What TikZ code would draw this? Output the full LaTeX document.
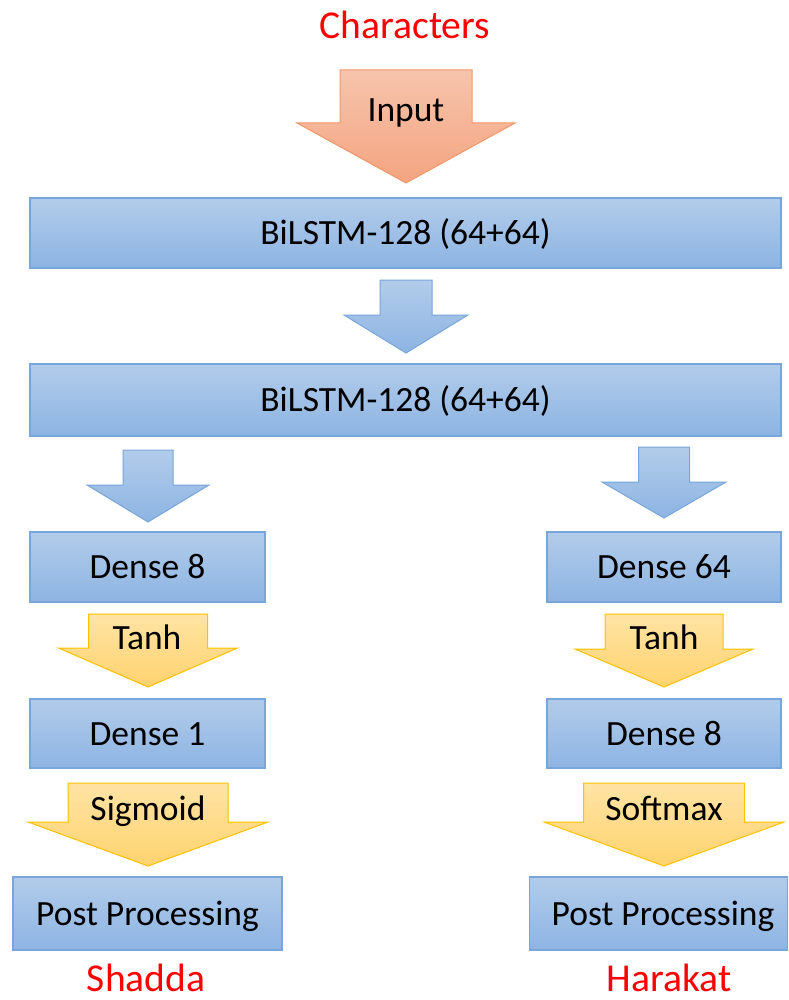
\documentclass[tikz,border=0pt]{standalone}
\usepackage{fontspec}
\setmainfont{Carlito}
\definecolor{bluetop}{RGB}{178,204,234}
\definecolor{bluebot}{RGB}{141,180,227}
\definecolor{blueline}{RGB}{120,165,218}
\definecolor{orangetop}{RGB}{246,196,172}
\definecolor{orangebot}{RGB}{244,164,128}
\definecolor{orangeline}{RGB}{240,152,105}
\definecolor{yellowtop}{RGB}{255,228,165}
\definecolor{yellowbot}{RGB}{255,210,110}
\definecolor{yellowline}{RGB}{255,192,0}
\newcommand{\fatarrow}[7]{\draw[#1] (#2-#4,#3)--(#2+#4,#3)--(#2+#4,#5)--(#2+#6,#5)--(#2,#7)--(#2-#6,#5)--(#2-#4,#5)--cycle;}
\tikzset{
  layer/.style={draw=blueline,top color=bluetop,bottom color=bluebot,line width=1.2pt,
    inner sep=0pt,font=\fontsize{35.5}{42}\selectfont,text height=23pt,text depth=0pt},
  blueflow/.style={draw=blueline,top color=bluetop,bottom color=bluebot,line width=1pt,line join=miter},
  inflow/.style={draw=orangeline,top color=orangetop,bottom color=orangebot,line width=1pt},
  actflow/.style={draw=yellowline,top color=yellowtop,bottom color=yellowbot,line width=1pt},
  flowtext/.style={inner sep=0pt,font=\fontsize{35.5}{42}\selectfont,text height=23pt,text depth=0pt},
  tag/.style={inner sep=0pt,text=red,font=\fontsize{39.5}{46}\selectfont,text height=25.4pt,text depth=0pt}
}
\begin{document}
\begin{tikzpicture}[x=1pt,y=-1pt]
	\useasboundingbox (0,0) rectangle (788,1000);
	\node[tag] (chars) at (405,25.5) {Characters};
	\fatarrow{inflow}{406}{70}{66}{123}{109}{183}
	\node[flowtext] (input) at (406,110) {Input};
	\node[layer,minimum width=751pt,minimum height=70pt] (bil1) at (405.5,233) {BiLSTM-128 (64+64)};
	\fatarrow{blueflow}{406}{280}{26}{315}{62}{353}
	\node[layer,minimum width=751pt,minimum height=72pt] (bil2) at (405.5,400) {BiLSTM-128 (64+64)};
	\fatarrow{blueflow}{148}{450}{25}{485}{61}{522}
	\fatarrow{blueflow}{664}{447}{25.5}{482}{62}{518}
	\node[layer,minimum width=235pt,minimum height=70pt] (dense8L) at (147.5,567) {Dense 8};
	\node[layer,minimum width=234pt,minimum height=70pt] (dense64R) at (664,567) {Dense 64};
	\fatarrow{actflow}{148}{614}{59.5}{648}{89.5}{687}
	\fatarrow{actflow}{664}{614}{59}{649}{89}{687}
	\node[flowtext] (tanhL) at (147,638) {Tanh};
	\node[flowtext] (tanhR) at (664,638) {Tanh};
	\node[layer,minimum width=235pt,minimum height=69pt] (dense1L) at (147.5,733.5) {Dense 1};
	\node[layer,minimum width=234pt,minimum height=69pt] (dense8R) at (664,733.5) {Dense 8};
	\fatarrow{actflow}{148}{783}{80}{822}{120}{866}
	\fatarrow{actflow}{664}{783}{80.5}{822}{120}{866}
	\node[flowtext] (sigm) at (148,809) {Sigmoid};
	\node[flowtext] (softm) at (664,809) {Softmax};
	\node[layer,minimum width=269pt,minimum height=73pt] (postL) at (147.5,913.5) {Post Processing};
	\node[layer,minimum width=258pt,minimum height=73pt] (postR) at (658.5,913.5) {\hspace*{9pt}Post Processing};
	\node[tag] (shadda) at (146,979) {Shadda};
	\node[tag] (harakat) at (669,979) {Harakat};
\end{tikzpicture}
\end{document}
